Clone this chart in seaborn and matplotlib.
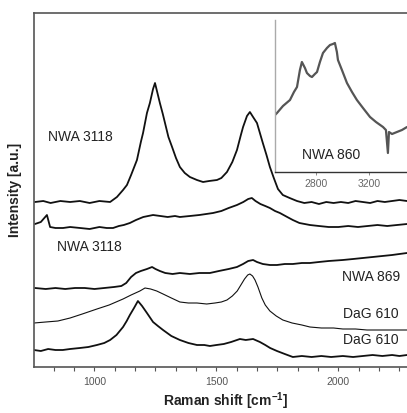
import matplotlib
matplotlib.use("Agg")
import matplotlib.pyplot as plt
from matplotlib.ticker import AutoMinorLocator, FixedLocator, NullLocator
import seaborn as sns
import pandas as pd

# ---------------- data ----------------
# Raman shift [cm-1] and intensity (arbitrary, offset) for each spectrum
nwa3118a_x = [756, 790, 820, 860, 900, 940, 980, 1020, 1064, 1092, 1117, 1133, 1150, 1174, 1190, 1199,
              1215, 1227, 1240, 1248, 1258, 1268, 1280, 1289, 1303, 1318, 1334, 1350, 1370, 1391, 1420,
              1445, 1470, 1502, 1520, 1543, 1565, 1584, 1600, 1609, 1625, 1637, 1650, 1666, 1678, 1690,
              1705, 1719, 1735, 1752, 1772, 1800, 1830, 1860, 1890, 1920, 1950, 1980, 2010, 2040, 2070,
              2100, 2130, 2160, 2190, 2220, 2250, 2281]
nwa3118a_y = [165, 166, 164, 166, 165, 166, 164, 166, 165, 170, 177, 182, 192, 207, 225, 234,
              254, 264, 278, 284, 274, 264, 253, 244, 230, 220, 209, 200, 194, 190, 187,
              185, 186, 187, 189, 195, 205, 217, 232, 240, 251, 255, 250, 244, 234, 224,
              212, 200, 189, 178, 172, 169, 166, 164, 165, 163, 165, 164, 165, 164, 166,
              165, 164, 166, 165, 166, 167, 166]

nwa3118b_x = [756, 780, 805, 818, 840, 871, 900, 941, 980, 1020, 1050, 1076, 1100, 1120, 1145, 1170,
              1200, 1240, 1270, 1300, 1330, 1350, 1391, 1430, 1486, 1520, 1550, 1584, 1610, 1630, 1645,
              1660, 1680, 1700, 1719, 1740, 1760, 1790, 1813, 1840, 1883, 1920, 1960, 2000, 2040, 2080,
              2120, 2160, 2200, 2240, 2281]
nwa3118b_y = [143, 145, 152, 140, 139, 139, 140, 139, 138, 140, 139, 139, 141, 142, 144, 147,
              150, 152, 151, 150, 151, 150, 151, 152, 154, 156, 159, 162, 165, 168, 169,
              166, 163, 161, 159, 156, 154, 150, 147, 144, 142, 141, 140, 140, 141, 140,
              141, 142, 141, 142, 143]

nwa869_x = [756, 800, 840, 880, 920, 960, 1000, 1040, 1080, 1110, 1130, 1150, 1170, 1190, 1215, 1236,
            1250, 1268, 1290, 1320, 1350, 1391, 1430, 1473, 1510, 1550, 1584, 1609, 1630, 1650, 1666,
            1690, 1719, 1748, 1780, 1813, 1850, 1883, 1920, 1960, 2018, 2060, 2100, 2140, 2180, 2220,
            2250, 2281]
nwa869_y = [79, 78, 79, 78, 79, 79, 78, 79, 80, 81, 84, 90, 94, 96, 98, 100,
            98, 96, 94, 93, 94, 93, 94, 94, 96, 98, 100, 103, 106, 107, 105,
            103, 102, 102, 103, 103, 104, 104, 105, 106, 107, 108, 109, 110, 111, 112,
            113, 114]

dag610a_x = [752, 800, 850, 900, 950, 1010, 1060, 1117, 1150, 1186, 1207, 1230, 1255, 1281, 1315, 1350,
             1385, 1420, 1460, 1494, 1520, 1543, 1565, 1585, 1600, 1615, 1628, 1637, 1648, 1658, 1670,
             1686, 1700, 1719, 1745, 1772, 1810, 1850, 1883, 1930, 1980, 2018, 2070, 2117, 2170, 2230,
             2281]
dag610a_y = [44, 45, 46, 49, 53, 58, 62, 68, 72, 76, 79, 78, 76, 73, 69, 65,
             64, 64, 63, 64, 65, 67, 71, 76, 82, 88, 92, 93, 91, 87, 80,
             69, 62, 56, 51, 47, 44, 42, 40, 39, 39, 38, 38, 37, 37, 37,
             37]

dag610b_x = [752, 780, 810, 840, 870, 900, 940, 975, 1010, 1040, 1064, 1090, 1117, 1132, 1145, 1162,
             1178, 1195, 1215, 1240, 1260, 1281, 1315, 1350, 1385, 1420, 1450, 1473, 1500, 1530, 1560,
             1596, 1620, 1650, 1678, 1700, 1720, 1748, 1780, 1813, 1850, 1890, 1930, 1970, 2018, 2060,
             2100, 2140, 2180, 2220, 2250, 2281]
dag610b_y = [17, 16, 18, 17, 17, 18, 19, 20, 22, 24, 27, 32, 40, 46, 52, 59,
             66, 61, 54, 45, 41, 37, 31, 27, 24, 22, 22, 21, 22, 23, 25,
             28, 27, 28, 25, 22, 19, 16, 13, 10, 11, 10, 11, 10, 11, 10,
             11, 12, 11, 12, 11, 12]

# inset: second-order region of NWA 860
nwa860_x = [2491, 2506, 2551, 2604, 2634, 2657, 2679, 2694, 2717, 2732, 2755, 2770, 2792, 2808, 2830,
            2853, 2883, 2906, 2928, 2943, 2958, 2966, 2996, 3034, 3072, 3109, 3155, 3208, 3253, 3306,
            3328, 3343, 3351, 3374, 3411, 3449, 3487]
nwa860_y = [57, 59, 66, 72, 80, 85, 102, 110, 104, 99, 96, 95, 98, 100, 110,
            119, 124, 127, 128, 129, 120, 112, 102, 89, 80, 72, 64, 55, 50, 45,
            42, 19, 40, 38, 40, 42, 45]

main_ticks = [1000, 1500, 2000]
inset_ticks = [2800, 3200]

labels = ["NWA 3118", "NWA 3118", "NWA 869", "DaG 610", "DaG 610"]

# ---------------- figure ----------------
sns.set_theme(style="white")
plt.rcParams["font.family"] = ["Liberation Sans", "DejaVu Sans"]
plt.rcParams["mathtext.default"] = "regular"

W, H = 407, 413
fig = plt.figure(figsize=(W / 100, H / 100), dpi=100)
ax = fig.add_axes([34 / W, 1 - 367 / H, (407 - 34) / W, (367 - 13) / H])

series = [(nwa3118a_x, nwa3118a_y, 1.3), (nwa3118b_x, nwa3118b_y, 1.3), (nwa869_x, nwa869_y, 1.3),
          (dag610a_x, dag610a_y, 0.8), (dag610b_x, dag610b_y, 1.3)]
for xs, ys, lw in series:
    df = pd.DataFrame({"shift": xs, "intensity": ys})
    sns.lineplot(data=df, x="shift", y="intensity", ax=ax, color="#111111", lw=lw,
                 estimator=None, sort=False)

ax.set_xlim(752, 2281)
ax.set_ylim(0, 354)
ax.yaxis.set_major_locator(NullLocator())
ax.xaxis.set_major_locator(FixedLocator(main_ticks))
ax.xaxis.set_minor_locator(AutoMinorLocator(6))
ax.tick_params(axis="x", which="both", direction="out", length=3, width=0.8, color="#555555",
               bottom=True, labelsize=7.5, labelcolor="#555555", pad=4)
for s in ["left", "top", "bottom"]:
    ax.spines[s].set_color("#555555")
    ax.spines[s].set_linewidth(1.2)
ax.spines["right"].set_visible(False)

ax.set_xlabel(r"Raman shift [cm$^{-1}$]", fontsize=10, fontweight="bold", color="#222222", va="center")
ax.xaxis.set_label_coords(0.515, -0.098)
ax.set_ylabel("Intensity [a.u.]", fontsize=10, fontweight="bold", color="#222222", va="center")
ax.yaxis.set_label_coords(-0.051, 0.5)

txt = dict(fontsize=10, color="#222222", va="center")
ax.text(809, 230, labels[0], ha="left", **txt)
ax.text(846, 120, labels[1], ha="left", **txt)
ax.text(2252, 90, labels[2], ha="right", **txt)
ax.text(2248, 53, labels[3], ha="right", **txt)
ax.text(2248, 27, labels[4], ha="right", **txt)

# ---------------- inset ----------------
axi = fig.add_axes([275 / W, 1 - 172 / H, (407 - 275) / W, (172 - 20) / H])
axi.set_facecolor("white")
dfi = pd.DataFrame({"shift": nwa860_x, "intensity": nwa860_y})
sns.lineplot(data=dfi, x="shift", y="intensity", ax=axi, color="#555555", lw=1.6,
             estimator=None, sort=False)
axi.set_xlim(2491, 3487)
axi.set_ylim(0, 152)
axi.yaxis.set_major_locator(NullLocator())
axi.xaxis.set_major_locator(FixedLocator(inset_ticks))
axi.tick_params(axis="x", direction="out", length=2, width=0.6, color="#777777", bottom=True,
                labelsize=7.5, labelcolor="#666666", pad=3)
axi.set_xlabel("")
axi.set_ylabel("")
axi.spines["top"].set_visible(False)
axi.spines["right"].set_visible(False)
axi.spines["left"].set_color("#aaaaaa")
axi.spines["left"].set_linewidth(1.0)
axi.spines["bottom"].set_color("#333333")
axi.spines["bottom"].set_linewidth(1.0)
axi.text(2694, 17, "NWA 860", ha="left", va="center", fontsize=10, color="#222222")

fig.savefig("out.png", dpi=100)
